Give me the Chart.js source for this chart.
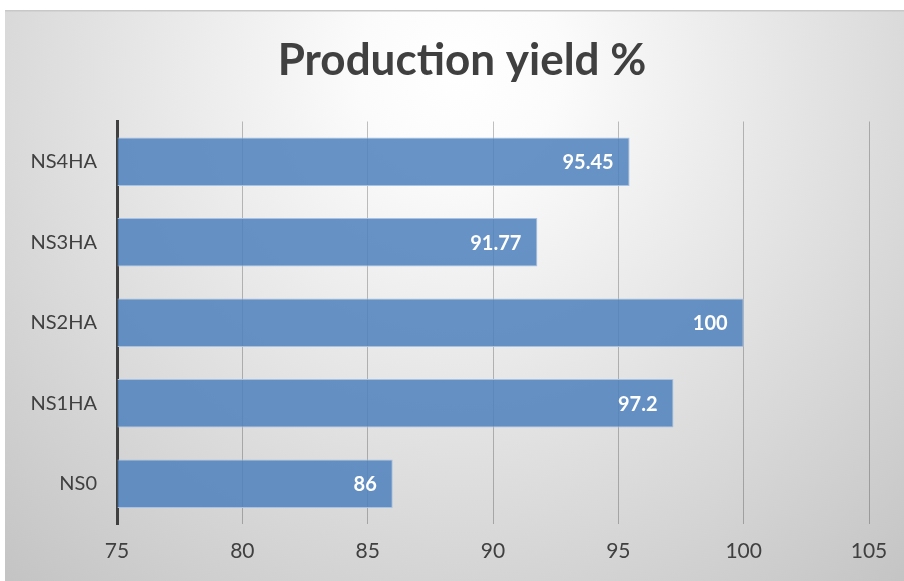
<!DOCTYPE html>
<html>
<head>
<meta charset="utf-8">
<script src="https://cdn.jsdelivr.net/npm/chart.js@4/dist/chart.umd.min.js"></script>
<style>
  html, body { margin: 0; padding: 0; background: #ffffff; }
  #wrap { position: absolute; left: 5px; top: 10px; width: 899px; height: 571px; }
</style>
</head>
<body>
<div id="wrap"><canvas id="c"></canvas></div>
<script>
const categories = ['NS4HA', 'NS3HA', 'NS2HA', 'NS1HA', 'NS0'];
const yieldValues = [95.45, 91.77, 100, 97.2, 86];
const valueLabels = ['95.45', '91.77', '100', '97.2', '86'];
const xTicks = [75, 80, 85, 90, 95, 100, 105];
const chartTitle = 'Production yield %';

const FONT = 'Lato, "Open Sans", sans-serif';

const bgPlugin = {
  id: 'bg',
  beforeDraw(chart) {
    const ctx = chart.ctx;
    const w = chart.width, h = chart.height;
    ctx.save();
    const g = ctx.createRadialGradient(455, 60, 0, 455, 60, 680);
    g.addColorStop(0, '#ffffff');
    g.addColorStop(0.15, '#fbfbfb');
    g.addColorStop(1, '#c4c4c4');
    ctx.fillStyle = g;
    ctx.fillRect(0, 0, w, h);
    ctx.fillStyle = '#c8c8c8';
    ctx.fillRect(0, 0, w, 1.5);
    ctx.restore();
  }
};

const titlePlugin = {
  id: 'customTitle',
  afterDraw(chart) {
    const ctx = chart.ctx;
    ctx.save();
    ctx.font = 'bold 44px ' + FONT;
    ctx.fillStyle = '#404040';
    ctx.textAlign = 'center';
    ctx.textBaseline = 'alphabetic';
    ctx.fillText(chartTitle, 457, 65);
    ctx.restore();
  }
};

const labelPlugin = {
  id: 'valueLabels',
  afterDatasetsDraw(chart) {
    const ctx = chart.ctx;
    const meta = chart.getDatasetMeta(0);
    ctx.save();
    ctx.font = 'bold 20px ' + FONT;
    ctx.fillStyle = '#ffffff';
    ctx.textAlign = 'right';
    ctx.textBaseline = 'middle';
    meta.data.forEach((bar, i) => {
      ctx.fillText(valueLabels[i], bar.x - 16, bar.y + 1);
    });
    ctx.restore();
  }
};

new Chart(document.getElementById('c'), {
  type: 'bar',
  data: {
    labels: categories,
    datasets: [{
      data: yieldValues,
      base: 75,
      backgroundColor: 'rgba(79,129,189,0.86)',
      borderColor: '#a9c2e2',
      borderWidth: 1,
      barPercentage: 0.6,
      categoryPercentage: 1.0
    }]
  },
  options: {
    indexAxis: 'y',
    responsive: true,
    maintainAspectRatio: false,
    animation: false,
    layout: { padding: { left: 0, right: 35, top: 111.5, bottom: 0 } },
    plugins: {
      legend: { display: false },
      tooltip: { enabled: false },
      title: { display: false }
    },
    scales: {
      x: {
        type: 'linear',
        min: 75,
        max: 105,
        afterBuildTicks(scale) { scale.ticks = xTicks.map(v => ({ value: v })); },
        afterFit(scale) { scale.height = 57; },
        grid: { color: 'rgba(0,0,0,0.24)', lineWidth: 1, drawTicks: false },
        border: { display: false },
        ticks: {
          color: '#404040',
          font: { family: FONT, size: 21 },
          padding: 15
        }
      },
      y: {
        afterFit(scale) { scale.width = 112; },
        grid: { display: false, drawTicks: false },
        border: { display: true, color: '#404040', width: 3 },
        ticks: {
          color: '#404040',
          font: { family: FONT, size: 20 },
          padding: 20
        }
      }
    }
  },
  plugins: [bgPlugin, titlePlugin, labelPlugin]
});
</script>
</body>
</html>
